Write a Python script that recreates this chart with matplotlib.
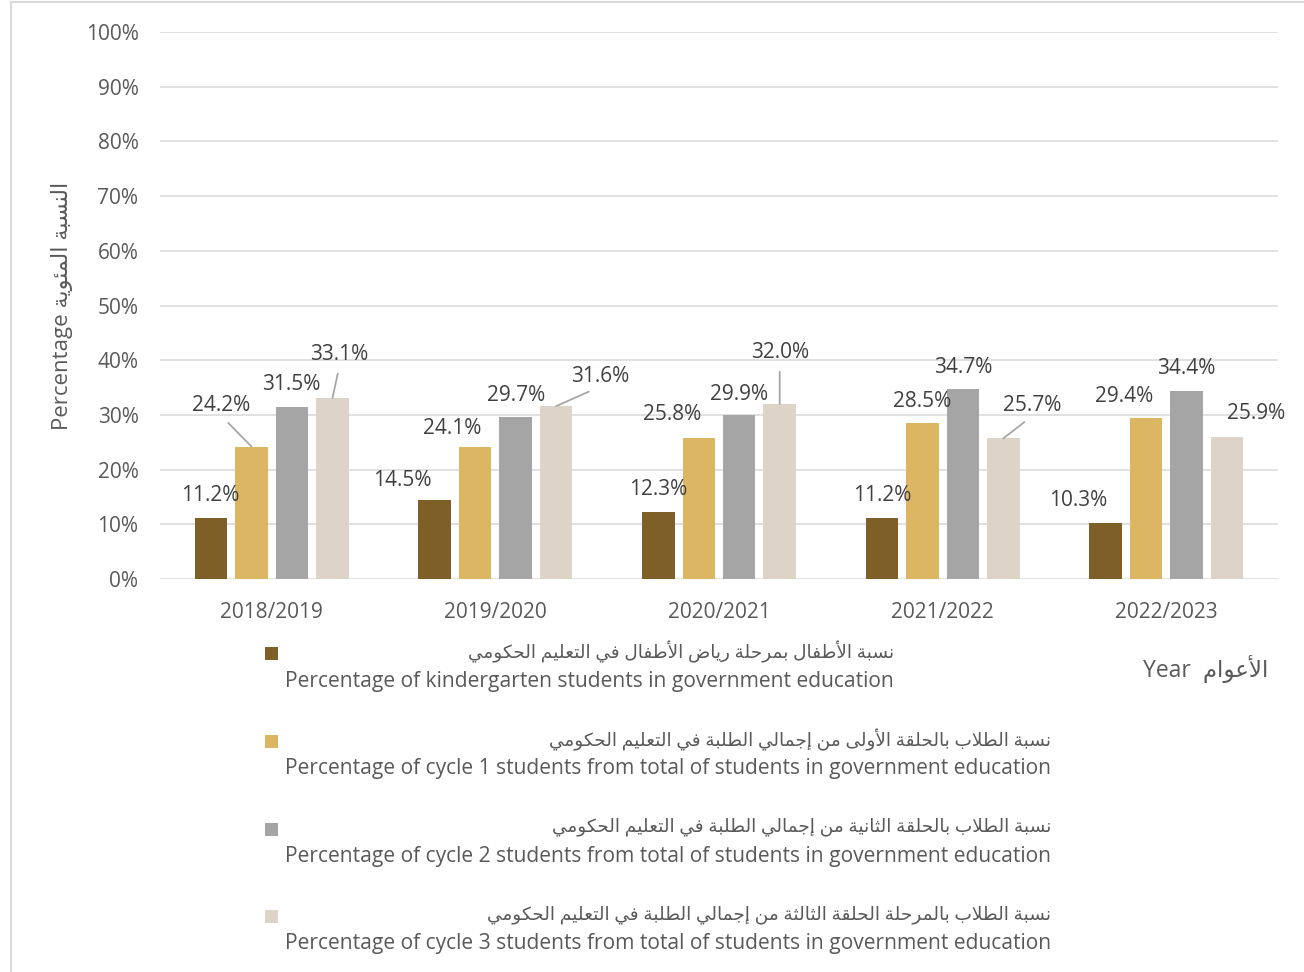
import matplotlib
matplotlib.use('Agg')
import matplotlib.pyplot as plt
import numpy as np
from matplotlib.ticker import PercentFormatter
from matplotlib.lines import Line2D
from matplotlib.patches import Rectangle

# ---------------- data ----------------
years = ['2018/2019', '2019/2020', '2020/2021', '2021/2022', '2022/2023']
kindergarten = [11.2, 14.5, 12.3, 11.2, 10.3]
cycle1 = [24.2, 24.1, 25.8, 28.5, 29.4]
cycle2 = [31.5, 29.7, 29.9, 34.7, 34.4]
cycle3 = [33.1, 31.6, 32.0, 25.7, 25.9]

series_ar = [
    'نسبة الأطفال بمرحلة رياض الأطفال في التعليم الحكومي',
    'نسبة الطلاب بالحلقة الأولى من إجمالي الطلبة في التعليم الحكومي',
    'نسبة الطلاب بالحلقة الثانية من إجمالي الطلبة في التعليم الحكومي',
    'نسبة الطلاب بالمرحلة الحلقة الثالثة من إجمالي الطلبة في التعليم الحكومي',
]
series_en = [
    'Percentage of kindergarten students in government education',
    'Percentage of cycle 1 students from total of students in government education',
    'Percentage of cycle 2 students from total of students in government education',
    'Percentage of cycle 3 students from total of students in government education',
]
ylabel_en = 'Percentage'
ylabel_ar = 'النسبة المئوية'
xlabel_en = 'Year'
xlabel_ar = 'الأعوام'
colors = ['#7F5F28', '#DCB662', '#A5A5A5', '#DDD3C7']

# ---------------- Arabic shaping (presentation forms, visual order) ----------------
_FOUR = {'\u0626': 0xFE89, '\u0628': 0xFE8F, '\u062A': 0xFE95, '\u062B': 0xFE99,
         '\u062C': 0xFE9D, '\u062D': 0xFEA1, '\u062E': 0xFEA5, '\u0633': 0xFEB1,
         '\u0634': 0xFEB5, '\u0635': 0xFEB9, '\u0636': 0xFEBD, '\u0637': 0xFEC1,
         '\u0638': 0xFEC5, '\u0639': 0xFEC9, '\u063A': 0xFECD, '\u0641': 0xFED1,
         '\u0642': 0xFED5, '\u0643': 0xFED9, '\u0644': 0xFEDD, '\u0645': 0xFEE1,
         '\u0646': 0xFEE5, '\u0647': 0xFEE9, '\u064A': 0xFEF1}
_TWO = {'\u0622': 0xFE81, '\u0623': 0xFE83, '\u0624': 0xFE85, '\u0625': 0xFE87,
        '\u0627': 0xFE8D, '\u0629': 0xFE93, '\u062F': 0xFEA9, '\u0630': 0xFEAB,
        '\u0631': 0xFEAD, '\u0632': 0xFEAF, '\u0648': 0xFEED, '\u0649': 0xFEEF}
_LAMALEF = {'\u0622': 0xFEF5, '\u0623': 0xFEF7, '\u0625': 0xFEF9, '\u0627': 0xFEFB}


def shape_ar(s):
    toks = []
    i = 0
    while i < len(s):
        c = s[i]
        if c == '\u0644' and i + 1 < len(s) and s[i + 1] in _LAMALEF:
            toks.append(('LA', s[i + 1]))
            i += 2
            continue
        toks.append(('C', c))
        i += 1

    def kind(t):
        if t[0] == 'LA':
            return 'two'
        if t[1] in _FOUR:
            return 'four'
        if t[1] in _TWO:
            return 'two'
        return None

    out = []
    for j, t in enumerate(toks):
        k = kind(t)
        if k is None:
            out.append(t[1])
            continue
        prev = kind(toks[j - 1]) if j > 0 else None
        nxt = kind(toks[j + 1]) if j + 1 < len(toks) else None
        jp = prev == 'four'
        jn = (k == 'four') and (nxt is not None)
        if t[0] == 'LA':
            base = _LAMALEF[t[1]]
        else:
            base = _FOUR.get(t[1]) or _TWO[t[1]]
        if k == 'four':
            off = 3 if (jp and jn) else 1 if jp else 2 if jn else 0
        else:
            off = 1 if jp else 0
        out.append(chr(base + off))
    return ''.join(reversed(out))


# ---------------- figure ----------------
W, H = 1304, 972
FAM = ['Open Sans', 'DejaVu Sans']
plt.rcParams['font.family'] = FAM
fig = plt.figure(figsize=(W / 100, H / 100), dpi=100)
fig.patch.set_facecolor('white')

ax = fig.add_axes([160 / W, 1 - 579 / H, 1118 / W, 547 / H])
ax.set_facecolor('white')

data = [kindergarten, cycle1, cycle2, cycle3]
x = np.arange(len(years))
bar_w = 0.145
step = 0.181
for s, (vals, col) in enumerate(zip(data, colors)):
    ax.bar(x + (s - 1.5) * step, vals, width=bar_w, color=col, zorder=3)

ax.set_xlim(-0.5, len(years) - 0.5)
ax.set_ylim(0, 100)
ax.set_yticks(np.arange(0, 101, 10))
ax.yaxis.set_major_formatter(PercentFormatter(100, decimals=0))
ax.set_xticks(x)
ax.set_xticklabels(years)
ax.grid(axis='y', color='#D9D9D9', linewidth=1.1, zorder=0)
ax.set_axisbelow(True)
for sp in ax.spines.values():
    sp.set_visible(False)
ax.tick_params(axis='y', length=0, pad=15.5, labelsize=15, labelcolor='#595959')
ax.tick_params(axis='x', length=0, pad=16.6, labelsize=15, labelcolor='#595959')

# data labels: (dx, dy) pixel offsets from bar top, leader flag
label_layout = {
    (0, 0): (-1, 22, False), (1, 0): (-30, 41, True), (2, 0): (-1, 22, False), (3, 0): (7, 43, True),
    (0, 1): (-32, 19, False), (1, 1): (-23, 19, False), (2, 1): (0, 21, False), (3, 1): (44, 30, True),
    (0, 2): (0, 22, False), (1, 2): (-27, 23, False), (2, 2): (0, 21, False), (3, 2): (0, 51, True),
    (0, 3): (0, 22, False), (1, 3): (0, 22, False), (2, 3): (0, 22, False), (3, 3): (29, 33, True),
    (0, 4): (-27, 22, False), (1, 4): (-22, 22, False), (2, 4): (0, 22, False), (3, 4): (29, 24, False),
}
for s, vals in enumerate(data):
    for i, v in enumerate(vals):
        dx, dy, leader = label_layout[(s, i)]
        kw = {}
        if leader:
            kw['arrowprops'] = dict(arrowstyle='-', color='#A6A6A6', lw=1.3,
                                    shrinkA=4, shrinkB=0, relpos=(0.5, 0.0))
        ax.annotate(f'{v:.1f}%', xy=(x[i] + (s - 1.5) * step, v), xytext=(dx, dy),
                    textcoords='offset pixels', ha='center', va='center',
                    fontsize=15, color='#404040', zorder=5, **kw)

# y axis title
ax.set_ylabel(ylabel_en + ' ' + shape_ar(ylabel_ar), fontsize=16, color='#595959',
              va='center')
ax.yaxis.set_label_coords((62 - 160) / 1118, (579 - 306) / 547)

# x axis title
fig.text(1268 / W, 1 - 669 / H, xlabel_en + '  ' + shape_ar(xlabel_ar), ha='right',
         va='center', fontsize=16.5, color='#595959')

# chart frame (cropped)
fig.add_artist(Line2D([11 / W, 11 / W], [0, 1 - 2 / H], transform=fig.transFigure,
                      color='#D9D9D9', lw=1.5))
fig.add_artist(Line2D([11 / W, 1], [1 - 2 / H, 1 - 2 / H], transform=fig.transFigure,
                      color='#D9D9D9', lw=1.5))

# legend
fig.canvas.draw()
renderer = fig.canvas.get_renderer()
leg_dy = 87.5
for i, (ar, en, col) in enumerate(zip(series_ar, series_en, colors)):
    y_en = 681 + i * leg_dy
    y_ar = 652 + i * leg_dy
    y_mk = 654 + i * leg_dy
    t_en = fig.text(285 / W, 1 - y_en / H, en, ha='left', va='center', fontsize=15.1,
                    color='#595959')
    bb = t_en.get_window_extent(renderer)
    fig.text(bb.x1 / W, 1 - y_ar / H, shape_ar(ar), ha='right', va='center',
             fontsize=13.3, color='#595959')
    fig.add_artist(Rectangle((265 / W, 1 - (y_mk + 6.5) / H), 13 / W, 13 / H,
                             transform=fig.transFigure, facecolor=col, edgecolor='none'))

fig.savefig('out.png', dpi=100)
